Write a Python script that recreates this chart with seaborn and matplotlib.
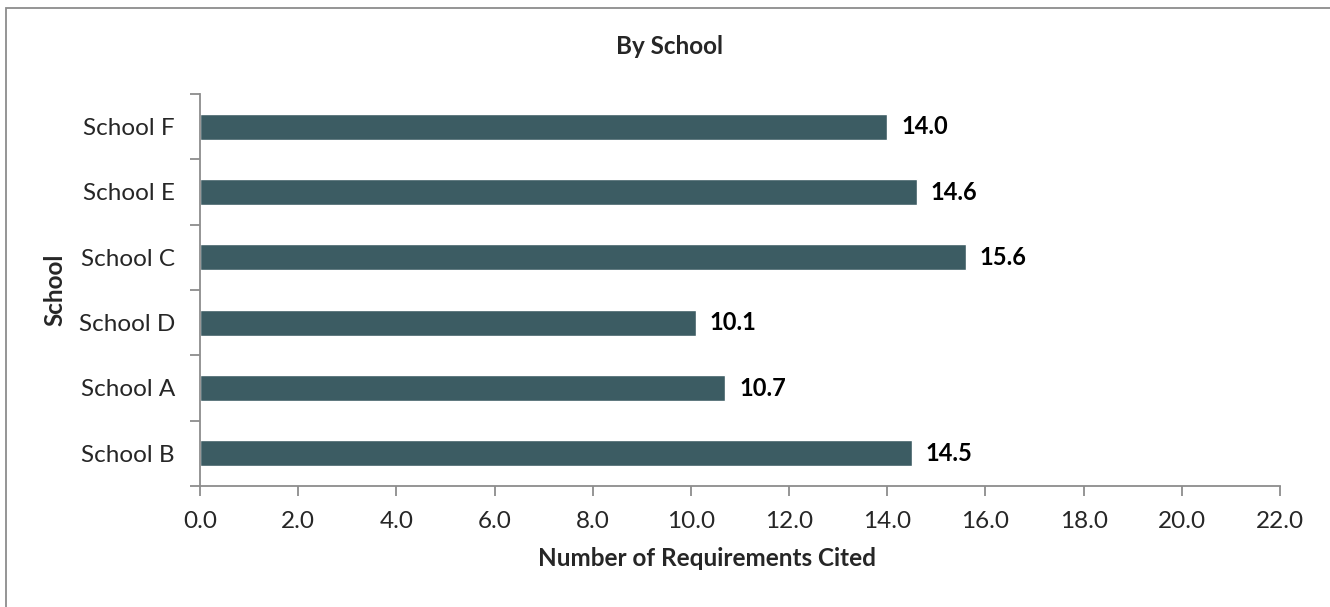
import matplotlib
matplotlib.use("Agg")
import matplotlib.pyplot as plt
from matplotlib.patches import Rectangle
import seaborn as sns
import pandas as pd
import numpy as np

schools = ["School F", "School E", "School C", "School D", "School A", "School B"]
requirements = [14.0, 14.6, 15.6, 10.1, 10.7, 14.5]
x_ticks = [0, 2, 4, 6, 8, 10, 12, 14, 16, 18, 20, 22]

sns.set_theme(style="white")
plt.rcParams["font.family"] = ["Lato", "DejaVu Sans"]

df = pd.DataFrame({"School": schools, "Requirements": requirements})

W, H = 1330, 607
ax_left, ax_right, ax_top, ax_bottom = 200, 1280, 94, 486
fig = plt.figure(figsize=(W / 100, H / 100), dpi=100)
ax = fig.add_axes([ax_left / W, 1 - ax_bottom / H,
                   (ax_right - ax_left) / W, (ax_bottom - ax_top) / H])

bar_color = "#3C5C63"
sns.barplot(data=df, x="Requirements", y="School", order=schools,
            color=bar_color, saturation=1, width=0.4, ax=ax, orient="h")

ax.set_xlim(0, 22)
ax.set_ylim(len(schools) - 0.5, -0.5)
ax.set_xticks(x_ticks)
ax.set_xticklabels([f"{v:.1f}" for v in x_ticks], fontsize=17.5)
ax.set_yticks(range(len(schools)))
ax.set_yticklabels(schools, fontsize=17.5)
ax.set_yticks(np.arange(-0.5, len(schools), 1.0), minor=True)

ax.tick_params(axis="y", which="major", length=0, pad=18)
ax.tick_params(axis="y", which="minor", length=7, width=1.3, color="#8C8C8C", direction="out", left=True)
ax.tick_params(axis="x", which="major", length=7, width=1.3, color="#8C8C8C", direction="out", bottom=True, pad=11)

for side in ["top", "right"]:
    ax.spines[side].set_visible(False)
for side in ["left", "bottom"]:
    ax.spines[side].set_color("#8C8C8C")
    ax.spines[side].set_linewidth(1.3)

for i, v in enumerate(requirements):
    ax.text(v + 0.28, i, f"{v:.1f}", va="center", ha="left",
            fontsize=17, fontweight="bold", color="black")

ax.set_xlabel("Number of Requirements Cited", fontsize=17.5, fontweight="bold",
              va="center")
ax.xaxis.set_label_coords((707 - ax_left) / (ax_right - ax_left),
                          -(558 - ax_bottom) / (ax_bottom - ax_top))
ax.set_ylabel("")
fig.text(55 / W, 1 - 290 / H, "School", rotation=90, ha="center", va="center",
         fontsize=17.5, fontweight="bold")
fig.text(669 / W, 1 - 46 / H, "By School", ha="center", va="center",
         fontsize=17.5, fontweight="bold")

fig.patches.append(Rectangle((6 / W, -0.05), 1.1, 1 - 8 / H + 0.05,
                             transform=fig.transFigure, fill=False,
                             edgecolor="#8C8C8C", linewidth=1.3))

fig.savefig("out.png", dpi=100)
